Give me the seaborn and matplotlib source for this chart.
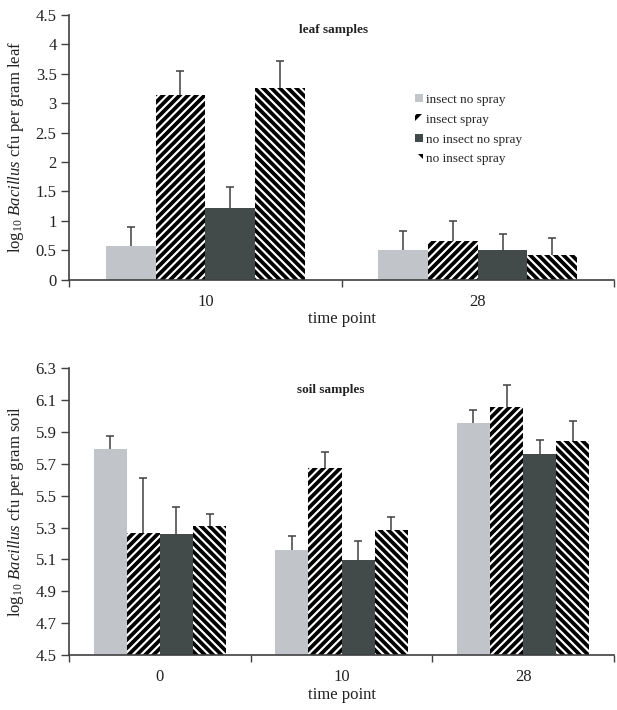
import numpy as np
import pandas as pd
import matplotlib
matplotlib.use('Agg')
import matplotlib.pyplot as plt
from matplotlib.patches import Patch
from matplotlib.ticker import FixedLocator, FuncFormatter
import seaborn as sns

treatments = ['insect no spray', 'insect spray', 'no insect no spray', 'no insect spray']
colors = ['#c1c4c9', '#ffffff', '#434b4a', '#ffffff']
hatches = ['', '////', '', '\\\\\\\\']

# leaf samples
leaf_times = ['10', '28']
leaf_ins_nospray = [0.57, 0.51]
leaf_ins_spray = [3.14, 0.65]
leaf_noins_nospray = [1.22, 0.50]
leaf_noins_spray = [3.25, 0.42]
leaf_err_ins_nospray = [0.32, 0.31]
leaf_err_ins_spray = [0.41, 0.35]
leaf_err_noins_nospray = [0.35, 0.28]
leaf_err_noins_spray = [0.46, 0.29]

# soil samples
soil_times = ['0', '10', '28']
soil_ins_nospray = [5.79, 5.16, 5.955]
soil_ins_spray = [5.265, 5.675, 6.055]
soil_noins_nospray = [5.26, 5.095, 5.76]
soil_noins_spray = [5.31, 5.285, 5.84]
soil_err_ins_nospray = [0.08, 0.085, 0.08]
soil_err_ins_spray = [0.345, 0.10, 0.135]
soil_err_noins_nospray = [0.17, 0.12, 0.085]
soil_err_noins_spray = [0.075, 0.08, 0.125]

sns.set_theme(style='white')
plt.rcParams['font.family'] = ['Liberation Serif', 'DejaVu Serif']
plt.rcParams['mathtext.fontset'] = 'custom'
plt.rcParams['mathtext.rm'] = 'Liberation Serif'
plt.rcParams['mathtext.it'] = 'Liberation Serif:italic'
plt.rcParams['hatch.linewidth'] = 2.7
plt.rcParams['hatch.color'] = 'black'

AX_COL = '#404040'


def make_df(times, series):
    rows = []
    for tr, vals in zip(treatments, series):
        for t, v in zip(times, vals):
            rows.append({'time': t, 'treatment': tr, 'value': v})
    return pd.DataFrame(rows)


def draw_panel(ax, times, means, errs, ylim, yticks, fmt, ylabel, title, title_xy):
    df = make_df(times, means)
    sns.barplot(data=df, x='time', y='value', hue='treatment', hue_order=treatments,
                palette=colors, width=0.73, saturation=1, errorbar=None,
                legend=False, ax=ax)
    bar_conts = list(ax.containers)
    for i, cont in enumerate(bar_conts):
        xs, hs = [], []
        for p in cont.patches:
            p.set_linewidth(0)
            if hatches[i]:
                p.set_facecolor('white')
                p.set_edgecolor('black')
                p.set_hatch(hatches[i])
            xs.append(p.get_x() + p.get_width() / 2)
            hs.append(p.get_y() + p.get_height())
        hs = np.array(hs)
        eb = ax.errorbar(xs, hs, yerr=[np.zeros(len(hs)), np.array(errs[i])], fmt='none',
                         ecolor=AX_COL, elinewidth=1.1, capsize=3, capthick=1.1, zorder=3)
        # only the upper cap, like the original
        for cl in eb[1]:
            if np.allclose(cl.get_ydata(), hs):
                cl.set_visible(False)

    n = len(times)
    ax.set_xlim(-0.5, n - 0.5)
    ax.set_ylim(*ylim)
    ax.yaxis.set_major_locator(FixedLocator(yticks))
    ax.yaxis.set_major_formatter(FuncFormatter(fmt))
    ax.xaxis.set_minor_locator(FixedLocator(np.arange(n + 1) - 0.5))
    ax.tick_params(axis='x', which='major', length=0, pad=10, labelsize=12, colors='#222222')
    ax.tick_params(axis='x', which='minor', length=5, width=1, color=AX_COL, direction='out',
                   bottom=True)
    ax.tick_params(axis='y', length=6, width=1, color=AX_COL, direction='out', left=True,
                   pad=3, labelsize=12, labelcolor='#222222')
    for s in ['top', 'right']:
        ax.spines[s].set_visible(False)
    for s in ['left', 'bottom']:
        ax.spines[s].set_color(AX_COL)
        ax.spines[s].set_linewidth(1.2)
    ax.set_xlabel('time point', fontsize=12, labelpad=1, color='#222222')
    ax.set_ylabel(ylabel, fontsize=12, labelpad=7, color='#222222')
    ax.text(title_xy[0], title_xy[1], title, transform=ax.transAxes, ha='center',
            va='center', fontsize=9.5, fontweight='bold', color='#222222')


fig = plt.figure(figsize=(6.17, 7.10), dpi=100)
ax1 = fig.add_axes([0.112, 0.606, 0.883, 0.373])
ax2 = fig.add_axes([0.112, 0.077, 0.883, 0.405])

draw_panel(ax1, leaf_times,
           [leaf_ins_nospray, leaf_ins_spray, leaf_noins_nospray, leaf_noins_spray],
           [leaf_err_ins_nospray, leaf_err_ins_spray, leaf_err_noins_nospray, leaf_err_noins_spray],
           (0, 4.5), np.arange(0, 4.51, 0.5), lambda v, p: f'{v:g}',
           r'log$_{10}$ $\mathit{Bacillus}$ cfu per gram leaf', 'leaf samples', (0.485, 0.943))

draw_panel(ax2, soil_times,
           [soil_ins_nospray, soil_ins_spray, soil_noins_nospray, soil_noins_spray],
           [soil_err_ins_nospray, soil_err_ins_spray, soil_err_noins_nospray, soil_err_noins_spray],
           (4.5, 6.3), np.arange(4.5, 6.31, 0.2), lambda v, p: f'{v:.1f}',
           r'log$_{10}$ $\mathit{Bacillus}$ cfu per gram soil', 'soil samples', (0.48, 0.922))

handles = [Patch(facecolor=c, edgecolor='black' if h else c, linewidth=0, hatch=h[:2])
           for c, h in zip(colors, hatches)]
ax1.legend(handles, treatments, loc='upper left', bbox_to_anchor=(0.672, 0.868),
           bbox_transform=fig.transFigure, frameon=False, fontsize=9.5,
           handlelength=0.6, handleheight=0.6, handletextpad=0.3, labelspacing=0.6,
           borderpad=0, borderaxespad=0)

fig.savefig('out.png', dpi=100, facecolor='white')
